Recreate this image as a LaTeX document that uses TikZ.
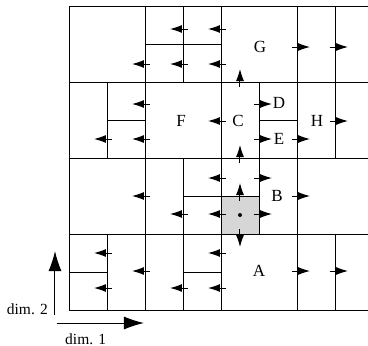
\documentclass[tikz,border=0pt]{standalone}
\usepackage{fontspec}
\setmainfont{Liberation Serif}
\usetikzlibrary{arrows.meta}
\begin{document}
\begin{tikzpicture}[x=1pt,y=-1pt,
    grid/.style={line width=0.8pt},
    flow/.style={line width=1pt,-{Latex[length=12pt,width=8pt]}},
    axis/.style={line width=1pt,-{Latex[length=20pt,width=13pt]}},
    every node/.style={font=\fontsize{17}{20}\selectfont,inner sep=0pt}]
    \useasboundingbox (0,0) rectangle (368,346);
    % shaded cell with its centre point
    \fill[black!16] (221,196) rectangle (259,234);
    \fill (240,215) circle (2pt);
    % coarse grid
    \foreach \x in {69,145,221,297}
        \draw[grid] (\x,6) -- (\x,310);
    \foreach \y in {6,82,158,234,310}
        \draw[grid] (69,\y) -- (368,\y);
    % refined cells
    \foreach \x/\a/\b in {183/6/82,107/82/158,259/82/158,335/6/158,183/158/234,259/158/234,107/234/310,183/234/310,335/234/310}
        \draw[grid] (\x,\a) -- (\x,\b);
    \foreach \y/\a/\b in {44/145/221,120/107/145,120/259/297,196/183/221,196/221/259,272/69/107,272/183/221}
        \draw[grid] (\a,\y) -- (\b,\y);
    % labels
    \node (G) at (260,47) {G};
    \node (F) at (181,121) {F};
    \node (C) at (238,121) {C};
    \node (D) at (279,103) {D};
    \node (E) at (279,139) {E};
    \node (H) at (317,121) {H};
    \node (B) at (277,196) {B};
    \node (A) at (259,271) {A};
    % fluxes across faces
    \foreach \x/\y in {183/29,221/29,145/64,183/64,221/64,145/104,145/139,107/139,221/121,145/196,221/178,221/214,183/214,107/253,107/288,145/271,183/288,221/253,221/288}
        \draw[flow] (\x+5,\y) -- (\x-13,\y);
    \foreach \x/\y in {297/47,335/47,259/104,259/139,297/139,335/121,259/178,259/214,297/196,297/271,335/271}
        \draw[flow] (\x-5,\y) -- (\x+13,\y);
    \foreach \y in {82,158,196}
        \draw[flow] (240,\y+5) -- (240,\y-13);
    \draw[flow] (240,229) -- (240,247);
    % dimensions
    \coordinate (o2) at (55,315);
    \coordinate (t2) at (55,251);
    \coordinate (o1) at (57,323);
    \coordinate (t1) at (144,323);
    \draw[axis] (o2) -- (t2);
    \draw[axis] (o1) -- (t1);
    \node[anchor=base east,font=\fontsize{15.5}{18}\selectfont] (dimtwo) at (48,314) {dim. 2};
    \node[anchor=base west,font=\fontsize{15.5}{18}\selectfont] (dimone) at (65,344) {dim. 1};
\end{tikzpicture}
\end{document}
